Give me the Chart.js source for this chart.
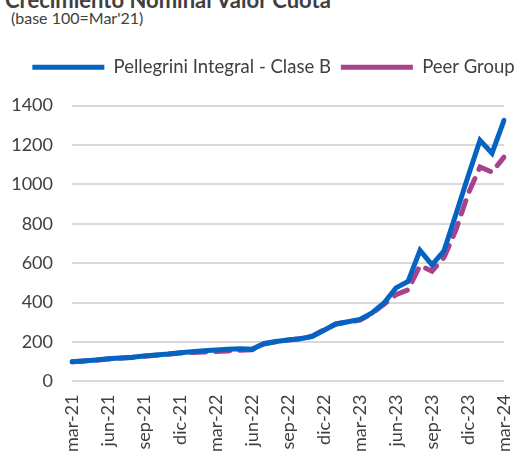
<!DOCTYPE html>
<html>
<head>
<meta charset="utf-8">
<script src="https://cdn.jsdelivr.net/npm/chart.js@4"></script>
<style>
  html, body { margin: 0; padding: 0; background: #fff; }
  body { width: 515px; height: 453px; position: relative; overflow: hidden; font-family: Lato, sans-serif; color: #404040; }
  #title { position: absolute; left: 5px; top: -14px; font-size: 22px; font-weight: bold; white-space: nowrap; }
  #subtitle { position: absolute; left: 11px; top: 8px; font-size: 16px; white-space: nowrap; }
  #wrap { position: absolute; left: 0; top: 0; width: 515px; height: 465px; }
</style>
</head>
<body>
<div id="title">Crecimiento Nominal Valor Cuota</div>
<div id="subtitle">(base 100=Mar'21)</div>
<div id="wrap"><canvas id="chart"></canvas></div>
<script>
const months = [
  'mar-21', 'abr-21', 'may-21', 'jun-21', 'jul-21', 'ago-21', 'sep-21', 'oct-21', 'nov-21', 'dic-21',
  'ene-22', 'feb-22', 'mar-22', 'abr-22', 'may-22', 'jun-22', 'jul-22', 'ago-22', 'sep-22', 'oct-22',
  'nov-22', 'dic-22', 'ene-23', 'feb-23', 'mar-23', 'abr-23', 'may-23', 'jun-23', 'jul-23', 'ago-23',
  'sep-23', 'oct-23', 'nov-23', 'dic-23', 'ene-24', 'feb-24', 'mar-24'
];
const tickLabels = ['mar-21', 'jun-21', 'sep-21', 'dic-21', 'mar-22', 'jun-22', 'sep-22', 'dic-22', 'mar-23', 'jun-23', 'sep-23', 'dic-23', 'mar-24'];

const pellegrini = [
  100, 104, 109, 115, 119, 123, 129, 134, 139, 146,
  151, 156, 160, 163, 166, 163, 193, 203, 210, 217,
  228, 260, 292, 303, 315, 348, 398, 475, 507, 665,
  592, 663, 850, 1040, 1223, 1158, 1325
];
const peerGroup = [
  100, 104, 108, 114, 118, 122, 128, 133, 138, 144,
  147, 149, 152, 155, 158, 161, 190, 202, 210, 217,
  230, 262, 292, 302, 312, 345, 392, 440, 465, 588,
  560, 630, 770, 950, 1088, 1062, 1138
];

const textColor = '#404040';
const gridColor = '#d9d9d9';

// legend sits a bit right of centre and has extra room below it
const legendTweak = {
  id: 'legendTweak',
  beforeLayout(chart) {
    const lg = chart.legend;
    if (lg && !lg._tweaked) {
      const fit = lg.fit;
      lg.fit = function () {
        fit.call(this);
        this.height += 19;
      };
      lg._tweaked = true;
    }
  },
  afterLayout(chart) {
    chart.legend.left += 10;
    chart.legend.right += 10;
  }
};

new Chart(document.getElementById('chart'), {
  type: 'line',
  data: {
    labels: months,
    datasets: [
      {
        label: 'Pellegrini Integral - Clase B',
        data: pellegrini,
        borderColor: '#0563c1',
        backgroundColor: '#0563c1',
        borderWidth: 5,
        pointRadius: 0,
        tension: 0,
        borderCapStyle: 'round',
        borderJoinStyle: 'miter'
      },
      {
        label: 'Peer Group',
        data: peerGroup,
        borderColor: '#a9428d',
        backgroundColor: '#a9428d',
        borderWidth: 5,
        borderDash: [14, 10],
        borderCapStyle: 'round',
        pointRadius: 0,
        tension: 0
      }
    ]
  },
  plugins: [legendTweak],
  options: {
    responsive: true,
    maintainAspectRatio: false,
    animation: false,
    layout: { padding: { left: 12, right: 0, top: 48, bottom: 0 } },
    plugins: {
      legend: {
        position: 'top',
        labels: {
          usePointStyle: true,
          pointStyle: 'line',
          pointStyleWidth: 72,
          boxHeight: 10,
          padding: 10,
          color: textColor,
          font: { family: 'Lato', size: 18.5 }
        }
      },
      tooltip: { enabled: false }
    },
    scales: {
      x: {
        offset: false,
        grid: { display: false, drawTicks: false },
        border: { display: false },
        afterFit: (scale) => {
          scale.paddingLeft = 0;
          scale.paddingRight = 11;
        },
        ticks: {
          autoSkip: false,
          maxRotation: 90,
          minRotation: 90,
          padding: 13,
          color: textColor,
          font: { family: 'Lato', size: 18 },
          callback: function (value) {
            const lbl = this.getLabelForValue(value);
            return tickLabels.includes(lbl) ? lbl : '';
          }
        }
      },
      y: {
        min: 0,
        max: 1400,
        grid: { color: gridColor, lineWidth: 2, drawTicks: false },
        border: { display: false },
        afterFit: (scale) => { scale.width = 60; },
        ticks: {
          stepSize: 200,
          padding: 19,
          color: textColor,
          font: { family: 'Lato', size: 18 },
          callback: (value) => String(value)
        }
      }
    }
  }
});
</script>
</body>
</html>
